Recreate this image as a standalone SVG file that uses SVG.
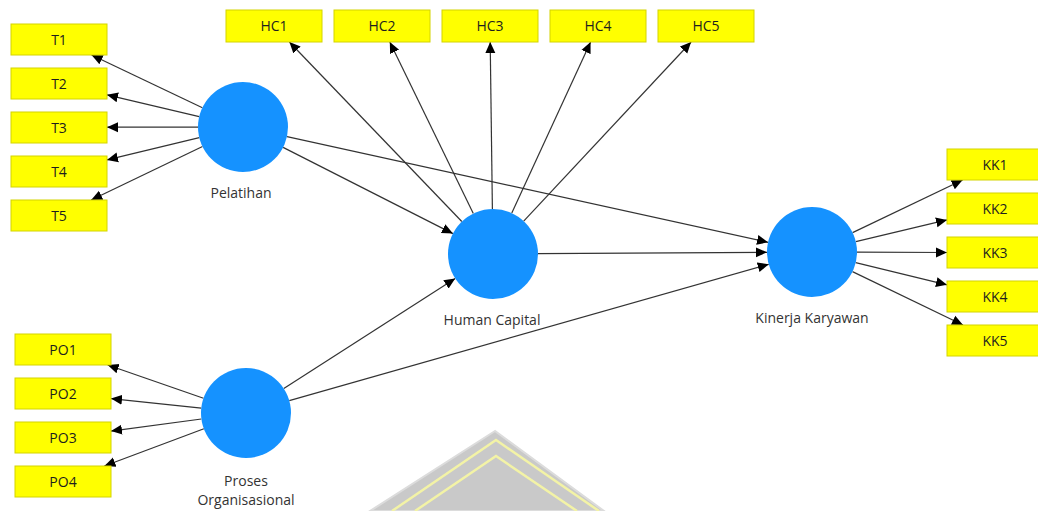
<svg xmlns="http://www.w3.org/2000/svg" width="1038" height="511" viewBox="0 0 1038 511">
<style>
.box{fill:#ffff00;stroke:#d4d400;stroke-width:1}
.bt{font-family:"Open Sans","Noto Sans",sans-serif;font-size:14px;fill:#1e1e1e;text-anchor:middle}
.lv{fill:#1592ff}
.lb{font-family:"Open Sans","Noto Sans",sans-serif;font-size:14px;fill:#333333;text-anchor:middle}
.c{stroke:#333333;stroke-width:1.2;fill:none;marker-end:url(#ah)}
</style>
<defs>
<marker id="ah" markerUnits="userSpaceOnUse" markerWidth="12" markerHeight="12" viewBox="0 0 12 12" refX="11" refY="6" orient="auto">
<path d="M0,1 L11,6 L0,11 Z" fill="#000000"/>
</marker>
</defs>
<rect width="1038" height="511" fill="#ffffff"/>
<g id="watermark">
<polygon points="495,431 370,511 604,511" fill="#c9c9c9" stroke="#dcdcdc" stroke-width="2"/>
<polyline points="392,511 496,440 599,511" fill="none" stroke="#f3f3a6" stroke-width="2.5"/>
<polyline points="415,511 496,456 577,511" fill="none" stroke="#f3f3a6" stroke-width="2.5"/>
</g>
<g id="connectors">
<line class="c" x1="202.4" y1="107.7" x2="91.6" y2="55"/>
<line class="c" x1="199.2" y1="116.6" x2="107" y2="94.8"/>
<line class="c" x1="198" y1="127.2" x2="107" y2="127.2"/>
<line class="c" x1="199.3" y1="137.6" x2="107" y2="159.9"/>
<line class="c" x1="202.5" y1="146.5" x2="91.2" y2="200"/>
<line class="c" x1="461.8" y1="221.5" x2="289.4" y2="42"/>
<line class="c" x1="473.3" y1="213.5" x2="389.8" y2="42"/>
<line class="c" x1="492.4" y1="209" x2="490.2" y2="42"/>
<line class="c" x1="511.8" y1="213.1" x2="590.6" y2="42"/>
<line class="c" x1="523.7" y1="221.1" x2="691.1" y2="42"/>
<line class="c" x1="852.6" y1="232.6" x2="962.6" y2="180"/>
<line class="c" x1="855.8" y1="241.6" x2="947" y2="219.9"/>
<line class="c" x1="857" y1="252.2" x2="947" y2="252.5"/>
<line class="c" x1="855.7" y1="262.6" x2="947" y2="284.8"/>
<line class="c" x1="852.5" y1="271.6" x2="963" y2="325"/>
<line class="c" x1="203.5" y1="398.2" x2="107.7" y2="365"/>
<line class="c" x1="201.3" y1="408.2" x2="111" y2="398.6"/>
<line class="c" x1="201.4" y1="419" x2="111" y2="431.1"/>
<line class="c" x1="203.9" y1="428.8" x2="104.4" y2="466"/>
<line class="c" x1="283.1" y1="147.4" x2="452.9" y2="233.6"/>
<line class="c" x1="287" y1="136.7" x2="768" y2="242.3"/>
<line class="c" x1="538" y1="253.7" x2="767" y2="252.3"/>
<line class="c" x1="283.8" y1="388.6" x2="455.2" y2="278.4"/>
<line class="c" x1="289.3" y1="400.7" x2="768.7" y2="264.3"/>
</g>
<g id="T1"><rect class="box" x="11" y="24" width="96" height="31"/><text class="bt" x="59" y="44.5">T1</text></g>
<g id="T2"><rect class="box" x="11" y="68" width="96" height="31"/><text class="bt" x="59" y="88.5">T2</text></g>
<g id="T3"><rect class="box" x="11" y="112" width="96" height="31"/><text class="bt" x="59" y="132.5">T3</text></g>
<g id="T4"><rect class="box" x="11" y="156" width="96" height="31"/><text class="bt" x="59" y="176.5">T4</text></g>
<g id="T5"><rect class="box" x="11" y="200" width="96" height="31"/><text class="bt" x="59" y="220.5">T5</text></g>
<g id="HC1"><rect class="box" x="226" y="10" width="96" height="32"/><text class="bt" x="274" y="31">HC1</text></g>
<g id="HC2"><rect class="box" x="334" y="10" width="96" height="32"/><text class="bt" x="382" y="31">HC2</text></g>
<g id="HC3"><rect class="box" x="442" y="10" width="96" height="32"/><text class="bt" x="490" y="31">HC3</text></g>
<g id="HC4"><rect class="box" x="550" y="10" width="96" height="32"/><text class="bt" x="598" y="31">HC4</text></g>
<g id="HC5"><rect class="box" x="658" y="10" width="96" height="32"/><text class="bt" x="706" y="31">HC5</text></g>
<g id="KK1"><rect class="box" x="947" y="149" width="96" height="31"/><text class="bt" x="995" y="169.5">KK1</text></g>
<g id="KK2"><rect class="box" x="947" y="193" width="96" height="31"/><text class="bt" x="995" y="213.5">KK2</text></g>
<g id="KK3"><rect class="box" x="947" y="237" width="96" height="31"/><text class="bt" x="995" y="257.5">KK3</text></g>
<g id="KK4"><rect class="box" x="947" y="281" width="96" height="31"/><text class="bt" x="995" y="301.5">KK4</text></g>
<g id="KK5"><rect class="box" x="947" y="325" width="96" height="31"/><text class="bt" x="995" y="345.5">KK5</text></g>
<g id="PO1"><rect class="box" x="15" y="334" width="96" height="31"/><text class="bt" x="63" y="354.5">PO1</text></g>
<g id="PO2"><rect class="box" x="15" y="378" width="96" height="31"/><text class="bt" x="63" y="398.5">PO2</text></g>
<g id="PO3"><rect class="box" x="15" y="422" width="96" height="31"/><text class="bt" x="63" y="442.5">PO3</text></g>
<g id="PO4"><rect class="box" x="15" y="466" width="96" height="31"/><text class="bt" x="63" y="486.5">PO4</text></g>
<g id="Pelatihan"><circle class="lv" cx="243" cy="127" r="45"/><text class="lb" x="241" y="198">Pelatihan</text></g>
<g id="HumanCapital"><circle class="lv" cx="493" cy="254" r="45"/><text class="lb" x="492" y="325">Human Capital</text></g>
<g id="KinerjaKaryawan"><circle class="lv" cx="812" cy="252" r="45"/><text class="lb" x="812" y="323">Kinerja Karyawan</text></g>
<g id="ProsesOrganisasional"><circle class="lv" cx="246" cy="413" r="45"/><text class="lb" x="246" y="486">Proses</text><text class="lb" x="246" y="505">Organisasional</text></g>
</svg>
